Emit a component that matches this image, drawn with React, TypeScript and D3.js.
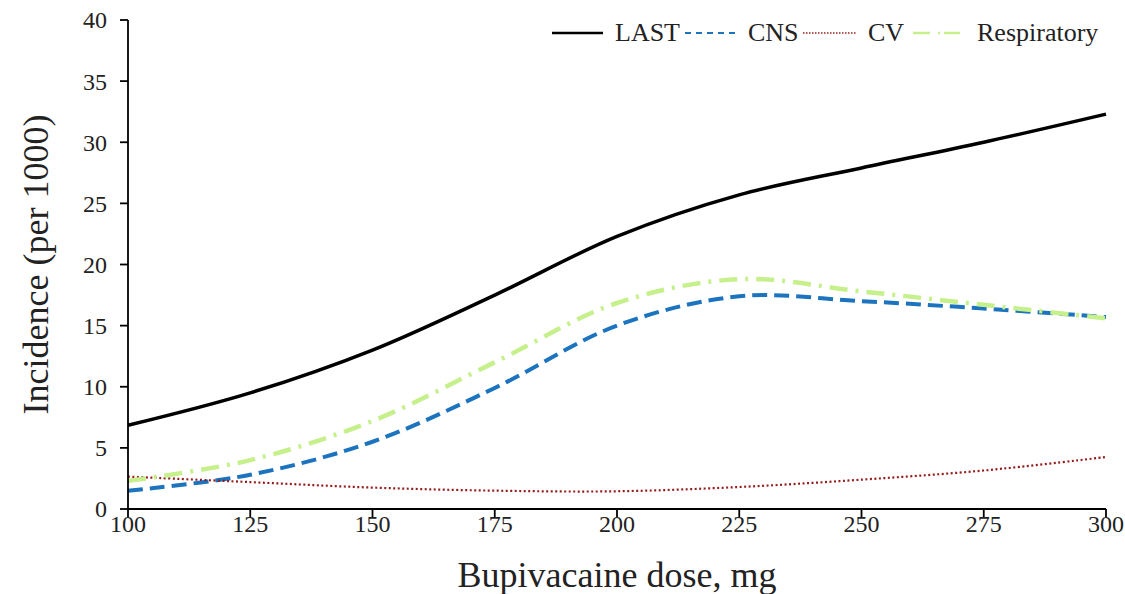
import React from 'react';
import * as d3 from 'd3';

const doses = [100, 125, 150, 175, 200, 225, 250, 275, 300];
const lastValues = [6.85, 9.5, 13.0, 17.5, 22.3, 25.7, 27.9, 30.0, 32.3];
const cnsValues = [1.5, 2.8, 5.5, 9.9, 15.0, 17.4, 17.0, 16.4, 15.7];
const cvValues = [2.65, 2.2, 1.75, 1.5, 1.45, 1.8, 2.4, 3.15, 4.25];
const respValues = [2.3, 4.0, 7.2, 12.0, 16.85, 18.8, 17.8, 16.7, 15.6];
const xTicks = [100, 125, 150, 175, 200, 225, 250, 275, 300];
const yTicks = [0, 5, 10, 15, 20, 25, 30, 35, 40];

const FONT = '"Liberation Serif", "Times New Roman", serif';

const series = [
  { name: 'LAST', values: lastValues, color: '#000000', width: 3.5, dash: '', legendWidth: 2.5, legendDash: '' },
  { name: 'CNS', values: cnsValues, color: '#1c73be', width: 4, dash: '15,7', legendWidth: 2, legendDash: '6,5' },
  { name: 'CV', values: cvValues, color: '#961c1c', width: 2.2, dash: '2,2.5', legendWidth: 1.5, legendDash: '1.5,1.5' },
  { name: 'Respiratory', values: respValues, color: '#c6f08c', width: 4.5, dash: '18,8,3,8', legendWidth: 2.5, legendDash: '17,8,2,4' },
];

// legend layout: [line start, line end, text start]
const legendPos = [
  [552, 603, 615],
  [685, 738, 748],
  [803, 857, 868],
  [913, 960, 977],
];

export default function App() {
  const x = d3.scaleLinear().domain([100, 300]).range([128, 1106]);
  const y = d3.scaleLinear().domain([0, 40]).range([509, 20]);

  const line = d3
    .line<number>()
    .x((_, i) => x(doses[i]))
    .y((d) => y(d))
    .curve(d3.curveCatmullRom.alpha(0.5));

  return (
    <svg width={1125} height={594} style={{ position: 'absolute', left: 0, top: 0, background: '#fff' }}>
      <rect width={1125} height={594} fill="#fff" />
      {series.map((s) => (
        <path
          key={s.name}
          d={line(s.values) || ''}
          fill="none"
          stroke={s.color}
          strokeWidth={s.width}
          strokeDasharray={s.dash || undefined}
        />
      ))}

      {/* y axis */}
      <line x1={x(100)} x2={x(100)} y1={y(0)} y2={y(40)} stroke="#000" strokeWidth={1.8} />
      {yTicks.map((t) => (
        <g key={t}>
          <line x1={x(100) - 8} x2={x(100)} y1={y(t)} y2={y(t)} stroke="#000" strokeWidth={1.8} />
          <text x={107} y={y(t)} dy="0.35em" textAnchor="end" fontFamily={FONT} fontSize={24} fill="#222">
            {t}
          </text>
        </g>
      ))}

      {/* x axis */}
      <line x1={x(100)} x2={x(300)} y1={y(0)} y2={y(0)} stroke="#000" strokeWidth={1.8} />
      {xTicks.map((t) => (
        <g key={t}>
          <line x1={x(t)} x2={x(t)} y1={y(0)} y2={y(0) + 8} stroke="#000" strokeWidth={1.8} />
          <text x={x(t)} y={532} textAnchor="middle" fontFamily={FONT} fontSize={24} fill="#222">
            {t}
          </text>
        </g>
      ))}

      <text x={617} y={587} textAnchor="middle" fontFamily={FONT} fontSize={36} fill="#222">
        Bupivacaine dose, mg
      </text>
      <text
        transform={`translate(48, ${y(20)}) rotate(-90)`}
        textAnchor="middle"
        fontFamily={FONT}
        fontSize={36}
        fill="#222"
      >
        Incidence (per 1000)
      </text>

      {/* legend */}
      {series.map((s, i) => {
        const [a, b, tx] = legendPos[i];
        return (
          <g key={s.name}>
            <line
              x1={a}
              x2={b}
              y1={33}
              y2={33}
              stroke={s.color}
              strokeWidth={s.legendWidth}
              strokeDasharray={s.legendDash || undefined}
            />
            <text x={tx} y={41} fontFamily={FONT} fontSize={26} fill="#222">
              {s.name}
            </text>
          </g>
        );
      })}
    </svg>
  );
}
